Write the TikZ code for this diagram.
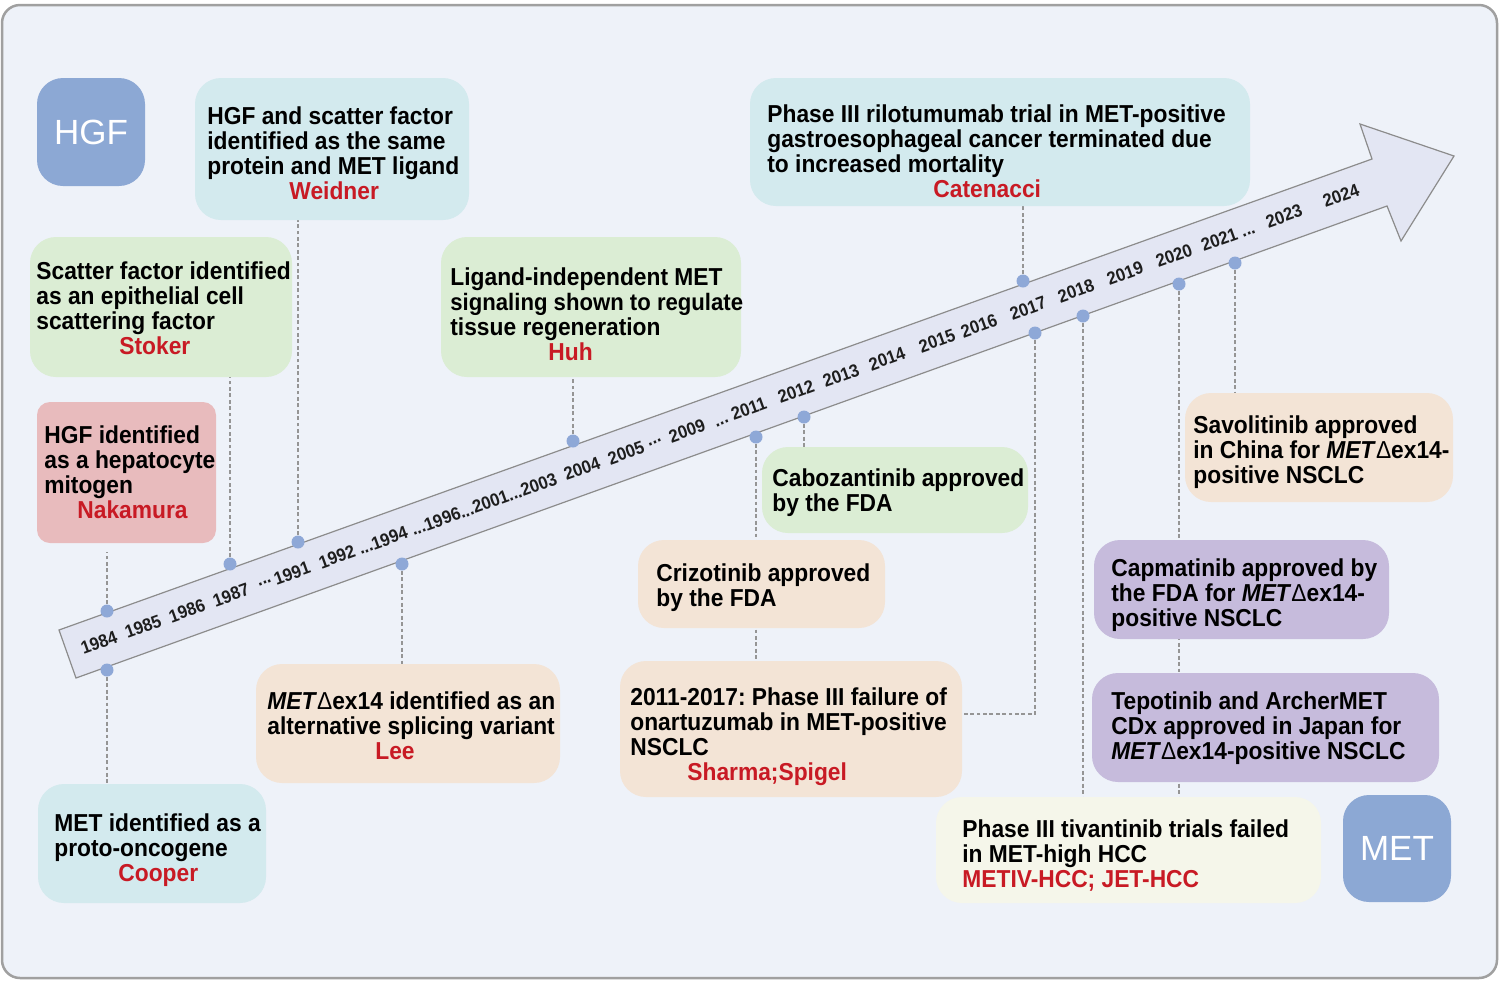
\documentclass[tikz,border=0pt]{standalone}
\usepackage{fontspec}
\setmainfont{Liberation Sans}[FakeStretch=0.93]
\newfontfamily\hgffont{Liberation Sans}
\usetikzlibrary{fit,calc}
\definecolor{bgc}{HTML}{EEF2F9}
\definecolor{framec}{HTML}{A0A0A0}
\definecolor{arrowc}{HTML}{E3E6F3}
\definecolor{arrowline}{HTML}{8C8C8C}
\definecolor{cyanc}{HTML}{D3EAEE}
\definecolor{greenc}{HTML}{DBEDD4}
\definecolor{pinkc}{HTML}{E8BBBD}
\definecolor{peachc}{HTML}{F3E4D6}
\definecolor{purplec}{HTML}{C6BBDC}
\definecolor{creamc}{HTML}{F5F6EA}
\definecolor{bluec}{HTML}{8CA8D4}
\definecolor{dotc}{HTML}{8EA8D7}
\definecolor{authc}{HTML}{C81A24}
\definecolor{dashc}{HTML}{959595}
\definecolor{yearc}{HTML}{1E1E1E}
\pgfdeclarelayer{bglayer}
\pgfdeclarelayer{linelayer}
\pgfsetlayers{bglayer,linelayer,main}
\newcommand{\au}[2]{\\\hspace*{#1}{\color{authc}#2}}
\newcommand{\dex}{\textit{MET}{\mdseries Δ}ex14}
\frenchspacing
\tikzset{
  evbox/.style={draw=none, rounded corners=13pt, inner sep=0pt},
  evtext/.style={anchor=north west, align=left, inner sep=0pt, font=\fontsize{12.25pt}{12.5pt}\selectfont\bfseries},
  yearlbl/.style={rotate=19.8, inner sep=0pt, font=\fontsize{9pt}{10pt}\selectfont\bfseries, text=yearc},
  tdot/.style={circle, fill=dotc, minimum size=6.5pt, inner sep=0pt},
  conn/.style={draw=dashc, line width=1.1pt, dash pattern=on 1.9pt off 1.3pt},
  genebox/.style={evbox, fill=bluec},
  genetext/.style={text=white, inner sep=0pt, font=\hgffont\fontsize{17.5pt}{17.5pt}\selectfont}
}
\begin{document}
\begin{tikzpicture}[x=0.5pt,y=-0.5pt]
\useasboundingbox (0,0) rectangle (1500,981);
\begin{pgfonlayer}{bglayer}
\draw[framec, line width=1.25pt, fill=bgc, rounded corners=9pt] (2,5) rectangle (1497,978);
\draw[fill=arrowc, draw=arrowline, line width=0.6pt, line join=miter]
  (59,630) -- (1372,159) -- (1360,124) -- (1454,156) -- (1401,241) -- (1387,206) -- (76,678) -- cycle;
\end{pgfonlayer}

% years
\node[yearlbl] (y84) at (99,642.7) {1984};
\node[yearlbl] (y85) at (143,626.8) {1985};
\node[yearlbl] (y86) at (187,611.0) {1986};
\node[yearlbl] (y87) at (231,595.1) {1987};
\node[yearlbl] (e1) at (265,582.9) {...};
\node[yearlbl] (y91) at (292,573.2) {1991};
\node[yearlbl] (y92) at (337,557.0) {1992};
\node[yearlbl] (y94) at (383,540.4) {...1994};
\node[yearlbl] (y96) at (484,504.1) {...1996...2001...2003};
\node[yearlbl] (y04) at (582,468.8) {2004};
\node[yearlbl] (y05) at (626,452.9) {2005};
\node[yearlbl] (e2) at (655,442.5) {...};
\node[yearlbl] (y09) at (687,431.0) {2009};
\node[yearlbl] (y11) at (740,411.9) {... 2011};
\node[yearlbl] (y12) at (796,391.7) {2012};
\node[yearlbl] (y13) at (841,375.5) {2013};
\node[yearlbl] (y14) at (887,359.0) {2014};
\node[yearlbl] (y15) at (937,341.0) {2015};
\node[yearlbl] (y16) at (979,325.9) {2016};
\node[yearlbl] (y17) at (1028,308.2) {2017};
\node[yearlbl] (y18) at (1076,290.9) {2018};
\node[yearlbl] (y19) at (1125,273.3) {2019};
\node[yearlbl] (y20) at (1174,255.7) {2020};
\node[yearlbl] (y21) at (1228,236.2) {2021 ...};
\node[yearlbl] (y23) at (1284,216.1) {2023};
\node[yearlbl] (y24) at (1341,195.6) {2024};

% boxes
\node[genebox, fit={(37,78) (145,186)}] (hgf) {};
\node[genetext] (hgft) at (hgf.center) {HGF};
\node[evbox, fill=cyanc, fit={(195,78) (469,220)}] (wei) {};
\node[evbox, fill=greenc, fit={(30,237) (292,377)}] (sto) {};
\node[evbox, fill=pinkc, rounded corners=6.5pt, fit={(37,402) (216,543)}] (nak) {};
\node[evbox, fill=greenc, fit={(441,237) (741,377)}] (huh) {};
\node[evbox, fill=cyanc, fit={(750,78) (1250,206)}] (cat) {};
\node[evbox, fill=peachc, fit={(1185,393) (1453,502)}] (sav) {};
\node[evbox, fill=greenc, fit={(762,447) (1028,533)}] (cab) {};
\node[evbox, fill=peachc, fit={(638,540) (885,628)}] (criz) {};
\node[evbox, fill=purplec, fit={(1094,540) (1389,639)}] (cap) {};
\node[evbox, fill=purplec, fit={(1092,673) (1439,782)}] (tep) {};
\node[evbox, fill=peachc, fit={(256,664) (560,783)}] (lee) {};
\node[evbox, fill=peachc, fit={(620,661) (962,797)}] (onar) {};
\node[evbox, fill=cyanc, fit={(38,784) (266,903)}] (coo) {};
\node[evbox, fill=creamc, fit={(936,797) (1321,903)}] (tiv) {};
\node[genebox, fit={(1343,795) (1451,902)}] (met) {};
\node[genetext] (mett) at (met.center) {MET};

% texts
\node[evtext] (weit) at (207,106) {HGF and scatter factor\\identified as the same\\protein and MET ligand\au{41pt}{Weidner}};
\node[evtext] (stot) at (36,261) {Scatter factor identified\\as an epithelial cell\\scattering factor\au{41.5pt}{Stoker}};
\node[evtext] (nakt) at (44,425) {HGF identified\\as a hepatocyte\\mitogen\au{16.5pt}{Nakamura}};
\node[evtext] (huht) at (450,267) {Ligand-independent MET\\{\fontsize{11.9pt}{12.5pt}\selectfont signaling shown to regulate}\\tissue regeneration\au{49pt}{Huh}};
\node[evtext] (catt) at (767,104) {Phase III rilotumumab trial in MET-positive\\gastroesophageal cancer terminated due\\to increased mortality\au{83pt}{Catenacci}};
\node[evtext] (savt) at (1193,415) {Savolitinib approved\\in China for \dex-\\positive NSCLC};
\node[evtext] (cabt) at (772,468) {Cabozantinib approved\\by the FDA};
\node[evtext] (crizt) at (656,563) {Crizotinib approved\\by the FDA};
\node[evtext] (capt) at (1111,558) {Capmatinib approved by\\the FDA for \dex-\\positive NSCLC};
\node[evtext] (tept) at (1111,691) {Tepotinib and ArcherMET\\CDx approved in Japan for\\\dex-positive NSCLC};
\node[evtext] (leet) at (267,691) {\dex{} identified as an\\alternative splicing variant\au{54pt}{Lee}};
\node[evtext] (onart) at (630,687) {2011-2017: Phase III failure of\\onartuzumab in MET-positive\\NSCLC\au{28.5pt}{Sharma;Spigel}};
\node[evtext] (coot) at (54,813) {MET identified as a\\proto-oncogene\au{32pt}{Cooper}};
\node[evtext] (tivt) at (962,819) {Phase III tivantinib trials failed\\in MET-high HCC\\{\color{authc}METIV-HCC; JET-HCC}};

% dots
\node[tdot] (d84t) at (107,611) {};
\node[tdot] (d84b) at (107,670) {};
\node[tdot] (d87) at (230,564) {};
\node[tdot] (d91) at (298,542) {};
\node[tdot] (d94b) at (402,564) {};
\node[tdot] (d04) at (573,441) {};
\node[tdot] (d11b) at (756,437) {};
\node[tdot] (d12b) at (804,417) {};
\node[tdot] (d17t) at (1023,281) {};
\node[tdot] (d17b) at (1035,333) {};
\node[tdot] (d18b) at (1083,316) {};
\node[tdot] (d20b) at (1179,284) {};
\node[tdot] (d21b) at (1235,263) {};
\coordinate (elb) at (1035,714);

\begin{pgfonlayer}{linelayer}
\draw[conn, shorten >=4.5pt] (d84t) -- (d84t |- nak.south);
\draw[conn] (d84b) -- (d84b |- coo.north);
\draw[conn] (d87) -- (d87 |- sto.south);
\draw[conn] (d91) -- (d91 |- wei.south);
\draw[conn] (d94b) -- (d94b |- lee.north);
\draw[conn] (d04) -- (d04 |- huh.south);
\draw[conn] (d11b) -- (d11b |- onar.north);
\draw[conn] (d12b) -- (d12b |- cab.north);
\draw[conn] (d17t) -- (d17t |- cat.south);
\draw[conn] (d17b) -- (elb) -- (elb -| onar.east);
\draw[conn] (d18b) -- (d18b |- tiv.north);
\draw[conn] (d20b) -- (d20b |- tiv.north);
\draw[conn] (d21b) -- (d21b |- sav.north);
\end{pgfonlayer}
\end{tikzpicture}
\end{document}
